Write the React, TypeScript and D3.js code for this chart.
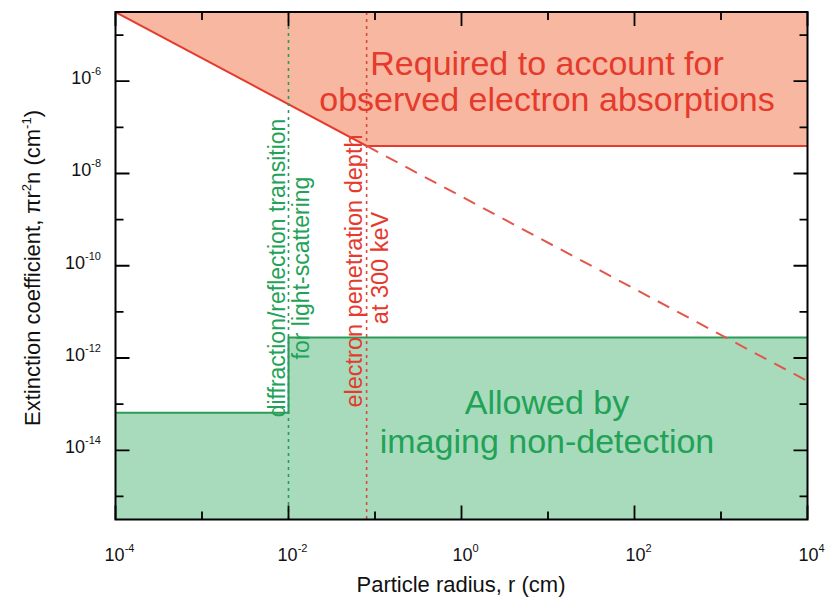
import React from "react";
import * as d3 from "d3";

// ---- data ----
const xMajorExps = [-4, -2, 0, 2, 4];
const xMinorExps = [-3, -1, 1, 3];
const yMajorExps = [-6, -8, -10, -12, -14];
const yMinorExps = [-5, -7, -9, -11, -13, -15];

const transitionRadius = 0.01; // diffraction/reflection transition (cm)
const penetrationRadius = 0.08; // electron penetration depth at 300 keV (cm)

// required-extinction boundary (solid red), extinction ~ 1/r then floor
const requiredRadii = [1e-4, 0.08, 1e4];
const requiredExt = [3.16e-5, 3.95e-8, 3.95e-8];
// continuation of 1/r law (dashed red)
const dashedRadii = [0.08, 1e4];
const dashedExt = [3.95e-8, 3.16e-13];
// allowed by imaging non-detection (green step)
const allowedRadii = [1e-4, 0.01, 0.01, 1e4];
const allowedExt = [6.5e-14, 6.5e-14, 2.8e-12, 2.8e-12];

const FONT = "'Liberation Sans', Arial, Helvetica, sans-serif";
const RED = "#e53a2c";
const GREEN = "#22a257";

export default function App() {
  const W = 825, H = 599;
  const left = 115.5, right = 807.5, top = 12, bottom = 519.5;
  const x = d3.scaleLog().domain([1e-4, 1e4]).range([left, right]);
  const y = d3.scaleLog().domain([Math.pow(10, -15.5), Math.pow(10, -4.5)]).range([bottom, top]);

  const req = requiredRadii.map((r, i) => [r, requiredExt[i]] as [number, number]);
  const dash = dashedRadii.map((r, i) => [r, dashedExt[i]] as [number, number]);
  const allow = allowedRadii.map((r, i) => [r, allowedExt[i]] as [number, number]);

  const line = d3.line<[number, number]>().x(d => x(d[0])).y(d => Math.max(top, y(d[1])));
  const redArea = d3.area<[number, number]>().x(d => x(d[0])).y0(top).y1(d => Math.max(top, y(d[1])));
  const greenArea = d3.area<[number, number]>().x(d => x(d[0])).y0(bottom).y1(d => y(d[1]));

  const majorLen = 14, minorLen = 8;
  const cy = 268;

  const xt = (e: number) => x(Math.pow(10, e));
  const yt = (e: number) => y(Math.pow(10, e));

  return (
    <svg width={W} height={H} style={{ position: "absolute", left: 0, top: 0 }}>
      <path d={greenArea(allow) || ""} fill="#a8dbbc" />
      <path d={redArea(req) || ""} fill="#f8b7a0" />
      <path d={line(allow) || ""} fill="none" stroke="#2e9a5a" strokeWidth={2} />
      <path d={line(req) || ""} fill="none" stroke={RED} strokeWidth={2} />
      <path d={line(dash) || ""} fill="none" stroke="#e0584c" strokeWidth={2} strokeDasharray="13,9" />
      <line x1={x(transitionRadius)} x2={x(transitionRadius)} y1={top} y2={bottom} stroke="#2e9a5a" strokeWidth={1.6} strokeDasharray="3,4" />
      <line x1={x(penetrationRadius)} x2={x(penetrationRadius)} y1={top} y2={bottom} stroke="#d84a3c" strokeWidth={1.6} strokeDasharray="3,4" />

      {/* frame */}
      <rect x={left} y={top} width={right - left} height={bottom - top} fill="none" stroke="black" strokeWidth={2} />

      {/* ticks */}
      {xMajorExps.map(e => (
        <path key={"xM" + e} d={`M${xt(e)},${bottom}v${-majorLen}M${xt(e)},${top}v${majorLen}`} stroke="black" strokeWidth={1.8} />
      ))}
      {xMinorExps.map(e => (
        <path key={"xm" + e} d={`M${xt(e)},${bottom}v${-minorLen}M${xt(e)},${top}v${minorLen}`} stroke="black" strokeWidth={1.8} />
      ))}
      {yMajorExps.map(e => (
        <path key={"yM" + e} d={`M${left},${yt(e)}h${majorLen}M${right},${yt(e)}h${-majorLen}`} stroke="black" strokeWidth={1.8} />
      ))}
      {yMinorExps.map(e => (
        <path key={"ym" + e} d={`M${left},${yt(e)}h${minorLen}M${right},${yt(e)}h${-minorLen}`} stroke="black" strokeWidth={1.8} />
      ))}

      {/* region labels */}
      <g fill={RED} fontSize={34} textAnchor="middle" fontFamily={FONT}>
        <text x={547} y={75}>Required to account for</text>
        <text x={547} y={111}>observed electron absorptions</text>
      </g>
      <g fill={GREEN} fontSize={34} textAnchor="middle" fontFamily={FONT}>
        <text x={547} y={414}>Allowed by</text>
        <text x={547} y={453}>imaging non-detection</text>
      </g>

      {/* vertical annotations */}
      <g fill={GREEN} fontSize={23} textAnchor="middle" fontFamily={FONT}>
        <text transform={`translate(${x(transitionRadius) - 4},${cy}) rotate(-90)`}>diffraction/reflection transition</text>
        <text transform={`translate(${x(transitionRadius) + 20},${cy}) rotate(-90)`}>for light-scattering</text>
      </g>
      <g fill={RED} fontSize={23.5} textAnchor="middle" fontFamily={FONT}>
        <text transform={`translate(${x(penetrationRadius) - 5},${cy + 3}) rotate(-90)`}>electron penetration depth</text>
        <text transform={`translate(${x(penetrationRadius) + 21},${cy}) rotate(-90)`}>at 300 keV</text>
      </g>

      {/* tick labels */}
      {xMajorExps.map(e => (
        <text key={"xl" + e} x={xt(e) + 4} y={561} fontSize={18} textAnchor="middle" fill="#111" fontFamily={FONT}>
          10<tspan fontSize={11} dy={-9}>{e < 0 ? "-" + (-e) : String(e)}</tspan>
        </text>
      ))}
      {yMajorExps.map(e => (
        <text key={"yl" + e} x={101} y={yt(e) + 3} fontSize={18} textAnchor="end" fill="#111" fontFamily={FONT}>
          10<tspan fontSize={11} dy={-9}>{"-" + (-e)}</tspan>
        </text>
      ))}

      {/* axis titles */}
      <text x={461} y={592} fontSize={22} textAnchor="middle" fill="#111" fontFamily={FONT}>Particle radius, r (cm)</text>
      <text transform={`translate(40,${cy}) rotate(-90)`} fontSize={22} textAnchor="middle" fill="#111" fontFamily={FONT}>
        Extinction coefficient, πr<tspan fontSize={13} dy={-9}>2</tspan><tspan dy={9}>n (cm</tspan><tspan fontSize={13} dy={-9}>-1</tspan><tspan dy={9}>)</tspan>
      </text>
    </svg>
  );
}
